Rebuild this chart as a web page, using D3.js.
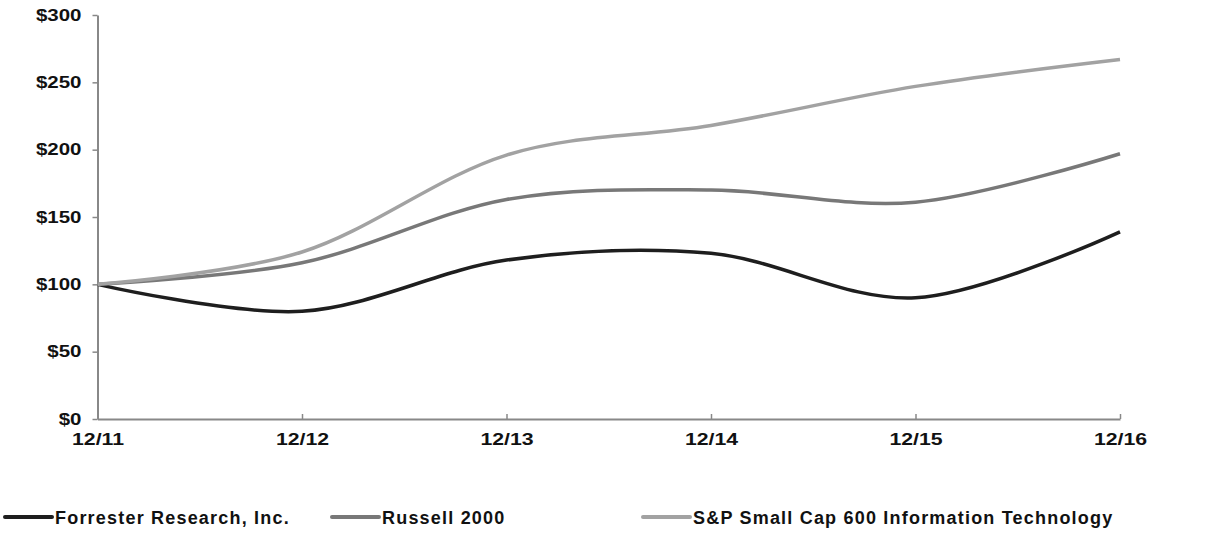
<!DOCTYPE html>
<html>
<head>
<meta charset="utf-8">
<script src="https://cdn.jsdelivr.net/npm/d3@7"></script>
<style>
  body { margin: 0; background: #fff; }
  svg text { font-family: "Liberation Sans", Arial, sans-serif; font-weight: bold; fill: #111; }
</style>
</head>
<body>
<svg id="chart" width="1223" height="553"></svg>
<script>
// data
var periods = ["12/11", "12/12", "12/13", "12/14", "12/15", "12/16"];
var yTicks = [0, 50, 100, 150, 200, 250, 300];
var seriesNames = ["Forrester Research, Inc.", "Russell 2000", "S&P Small Cap 600 Information Technology"];
var forrester = [100, 80, 118, 123, 90, 139];
var russell = [100, 116, 163, 170, 161, 197];
var spSmallCap = [100, 124, 196, 218, 247, 267];
var colors = ["#1e1e1e", "#787878", "#a2a2a2"];

var allSeries = [forrester, russell, spSmallCap];

var svg = d3.select("#chart");

x = d3.scalePoint().domain(periods).range([97.5, 1120]);
y = d3.scaleLinear().domain([0, 300]).range([419, 15]);

// y axis
var yAxis = svg.append("g")
    .attr("transform", "translate(97.5,0)")
    .call(d3.axisLeft(y).tickValues(yTicks).tickSize(5).tickSizeOuter(0)
        .tickFormat(d => "$" + d));
yAxis.select(".domain").attr("stroke", "#888").attr("stroke-width", 2);
yAxis.selectAll(".tick line").attr("stroke", "#888").attr("stroke-width", 1.5);
yAxis.selectAll(".tick text")
    .attr("x", 0)
    .attr("transform", "translate(-16,0) scale(1.28,1)")
    .style("font-size", "16px");

// x axis, ticks pointing up
var xAxis = svg.append("g")
    .attr("transform", "translate(0,419)")
    .call(d3.axisBottom(x).tickSizeInner(-5).tickSizeOuter(0).tickPadding(14));
xAxis.select(".domain").attr("stroke", "#888").attr("stroke-width", 2);
xAxis.selectAll(".tick line").attr("stroke", "#888").attr("stroke-width", 1.5);
xAxis.selectAll(".tick text")
    .attr("transform", "scale(1.25,1)")
    .style("font-size", "17px");

// lines, smoothed like the spreadsheet original
line = d3.line()
    .x((d, i) => x(periods[i]))
    .y(d => y(d))
    .curve(d3.curveCardinal.tension(0));

svg.selectAll("path.series")
    .data(allSeries)
    .enter().append("path")
    .attr("class", "series")
    .attr("d", line)
    .attr("fill", "none")
    .attr("stroke", (d, i) => colors[i])
    .attr("stroke-width", 3.5);

// legend
var legendX = [5, 332, 643];
var legend = svg.selectAll("g.legend")
    .data(seriesNames)
    .enter().append("g")
    .attr("class", "legend")
    .attr("transform", (d, i) => "translate(" + legendX[i] + ",517)");
legend.append("line")
    .attr("x1", 0).attr("x2", 47)
    .attr("y1", 0).attr("y2", 0)
    .attr("stroke", (d, i) => colors[i])
    .attr("stroke-width", 4)
    .attr("stroke-linecap", "round");
legend.append("text")
    .attr("x", 50)
    .attr("y", 6.5)
    .style("font-size", "18px")
    .style("letter-spacing", "1.2px")
    .text(d => d);
</script>
</body>
</html>
